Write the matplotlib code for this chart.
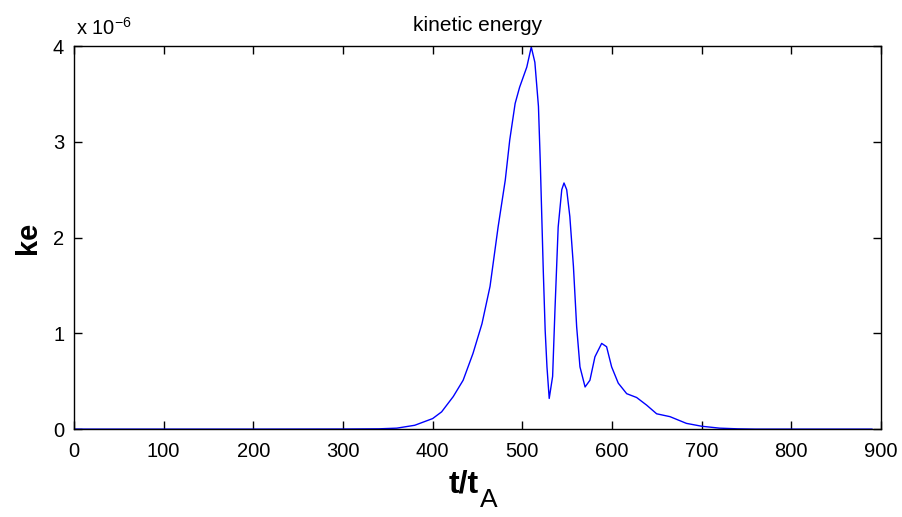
import numpy as np
import matplotlib
matplotlib.use('Agg')
import matplotlib.pyplot as plt

plt.rcParams['font.family'] = ['Liberation Sans', 'DejaVu Sans']
plt.rcParams['mathtext.fontset'] = 'custom'
plt.rcParams['mathtext.rm'] = 'Liberation Sans'
plt.rcParams['mathtext.bf'] = 'Liberation Sans:bold'

# values (ke in units of 1e-6)
t = [0, 100, 200, 300, 340, 360, 380, 400, 410, 423, 434, 445, 455, 464,
     473, 481, 486, 492, 497, 505, 510, 514, 518, 520, 523.4, 525.5, 527.5,
     530, 533.8, 536.4, 540, 544, 546.5, 549.5, 553, 557, 560.6, 564.3, 570,
     575.4, 581, 588.5, 594, 599.6, 607, 616.4, 627.5, 638.7, 649.8, 664.7,
     683, 700, 720, 740, 760, 800, 890]
ke = [0, 0, 0, 0.001, 0.003, 0.01, 0.04, 0.11, 0.18, 0.34, 0.51, 0.79, 1.10,
      1.49, 2.11, 2.60, 3.02, 3.40, 3.57, 3.78, 3.99, 3.83, 3.37, 2.80, 1.65,
      1.03, 0.65, 0.32, 0.55, 1.24, 2.11, 2.50, 2.57, 2.50, 2.22, 1.70, 1.07,
      0.65, 0.44, 0.51, 0.755, 0.895, 0.86, 0.65, 0.48, 0.37, 0.33, 0.25,
      0.16, 0.13, 0.06, 0.03, 0.01, 0.003, 0, 0, 0]

xticks = np.arange(0, 901, 100)
yticks = [0, 1, 2, 3, 4]

fig = plt.figure(figsize=(9.02, 5.17), dpi=100)
ax = fig.add_axes([0.082, 0.170, 0.8947, 0.741])
ax.plot(t, ke, color='#0000ff', linewidth=1.0)

ax.set_xlim(0, 900)
ax.set_ylim(0, 4)
ax.set_xticks(xticks)
ax.set_yticks(yticks)
ax.tick_params(direction='in', length=6, width=1, top=True, right=True,
               labelsize=14.5)
ax.tick_params(axis='x', pad=9)
ax.tick_params(axis='y', pad=7)
for s in ax.spines.values():
    s.set_linewidth(1)

ax.set_title('kinetic energy', fontsize=15, pad=11)
ax.set_ylabel('ke', fontsize=21, fontweight='bold', labelpad=8)

# x label: bold "t/t" with a plain, low subscript "A"
ax.set_xlabel('t/t', fontsize=23, fontweight='bold')
ax.xaxis.set_label_coords(0.483, -0.105)
ax.annotate('A', xy=(1, 0), xycoords=ax.xaxis.label, xytext=(1, 8),
            textcoords='offset points', fontsize=19, ha='left', va='top')

ax.text(0.0025, 1.029, r'x 10$^{\mathrm{-6}}$', transform=ax.transAxes,
        fontsize=14.5, va='baseline', ha='left')

fig.savefig('out.png', dpi=100)
